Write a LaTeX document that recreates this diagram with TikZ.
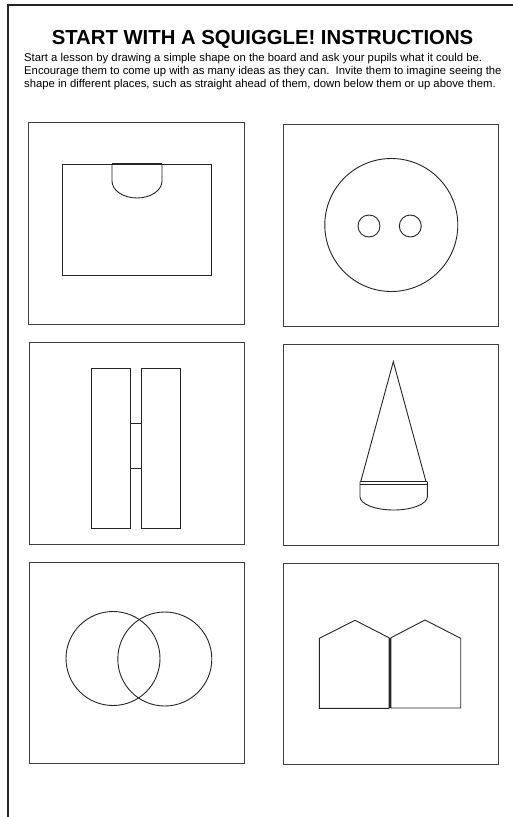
\documentclass[tikz,border=0pt]{standalone}
\usepackage{fontspec}
\setmainfont{Liberation Sans}
\begin{document}
\begin{tikzpicture}[x=1pt,y=-1pt,
  panel/.style={draw=black!75,line width=1pt},
  figline/.style={draw=black!85,line width=0.9pt},
  frame/.style={draw=black!85,line width=2pt},
  bodytext/.style={anchor=base west,inner sep=0pt,font=\fontsize{11.3}{13}\selectfont}]
\useasboundingbox (0,0) rectangle (513,817);
% outer frame
\coordinate (fTR) at (513,5);
\coordinate (fTL) at (8,5);
\coordinate (fBL) at (8,817);
\draw[frame] (fTR) -- (fTL) -- (fBL);
% title
\node[anchor=base,inner sep=0pt,font=\bfseries\fontsize{20.3}{24}\selectfont] (title) at (262.5,44) {START WITH A SQUIGGLE! INSTRUCTIONS};
\node[bodytext] (l1) at (24,61.5) {Start a lesson by drawing a simple shape on the board and ask your pupils what it could be.};
\node[bodytext] (l2) at (24,74.5) {Encourage them to come up with as many ideas as they can.\ \ Invite them to imagine seeing the};
\node[bodytext] (l3) at (24,87.5) {shape in different places, such as straight ahead of them, down below them or up above them.};
% panel 1
\draw[panel] (28,122) rectangle (244,324);
\draw[figline] (62,164) rectangle (211,275);
\draw[figline] (112,164) -- (112,181) arc[start angle=180,end angle=360,x radius=25,y radius=-17] -- (162,164);
\draw[figline,line width=1.4pt] (112,164) -- (162,164);
% panel 2
\draw[panel] (283,124) rectangle (498,326);
\draw[figline] (391.3,225) circle[radius=66.5];
\draw[figline] (369,226) circle[radius=11];
\draw[figline] (410.3,226) circle[radius=11];
% panel 3
\draw[panel] (29,342) rectangle (244,544);
\draw[figline] (91.7,368.3) rectangle (130.7,528.3);
\draw[figline] (141.3,368.3) rectangle (180.7,528.3);
\draw[figline] (130.7,423.7) -- (141.3,423.7);
\draw[figline] (130.7,468) -- (141.3,468);
% panel 4
\draw[panel] (283,344) rectangle (498,545);
\draw[figline] (360.7,481.7) -- (393.3,361.7) -- (426,481.7);
\draw[figline] (360,481.7) -- (427.3,481.7);
\draw[figline] (360,484) -- (427.3,484);
\draw[figline] (360,481.7) -- (360,496.7) arc[start angle=180,end angle=360,x radius=33.65,y radius=-13.3] -- (427.3,481.7);
% panel 5
\draw[panel] (29,562) rectangle (244,763);
\draw[figline] (113,658.5) circle[radius=47];
\draw[figline] (164.8,659) circle[radius=47];
% panel 6
\draw[panel] (283,563) rectangle (498,764);
\draw[figline] (389,708.3) -- (319.3,708.3) -- (319.3,638.3) -- (355,620.3) -- (389,637.7) -- cycle;
\draw[figline] (391,637.7) -- (425,620) -- (460.7,638.3) -- (460.7,708) -- (391,708) -- cycle;
\draw[figline,line width=1.4pt] (390,637.7) -- (390,708.3);
\end{tikzpicture}
\end{document}
